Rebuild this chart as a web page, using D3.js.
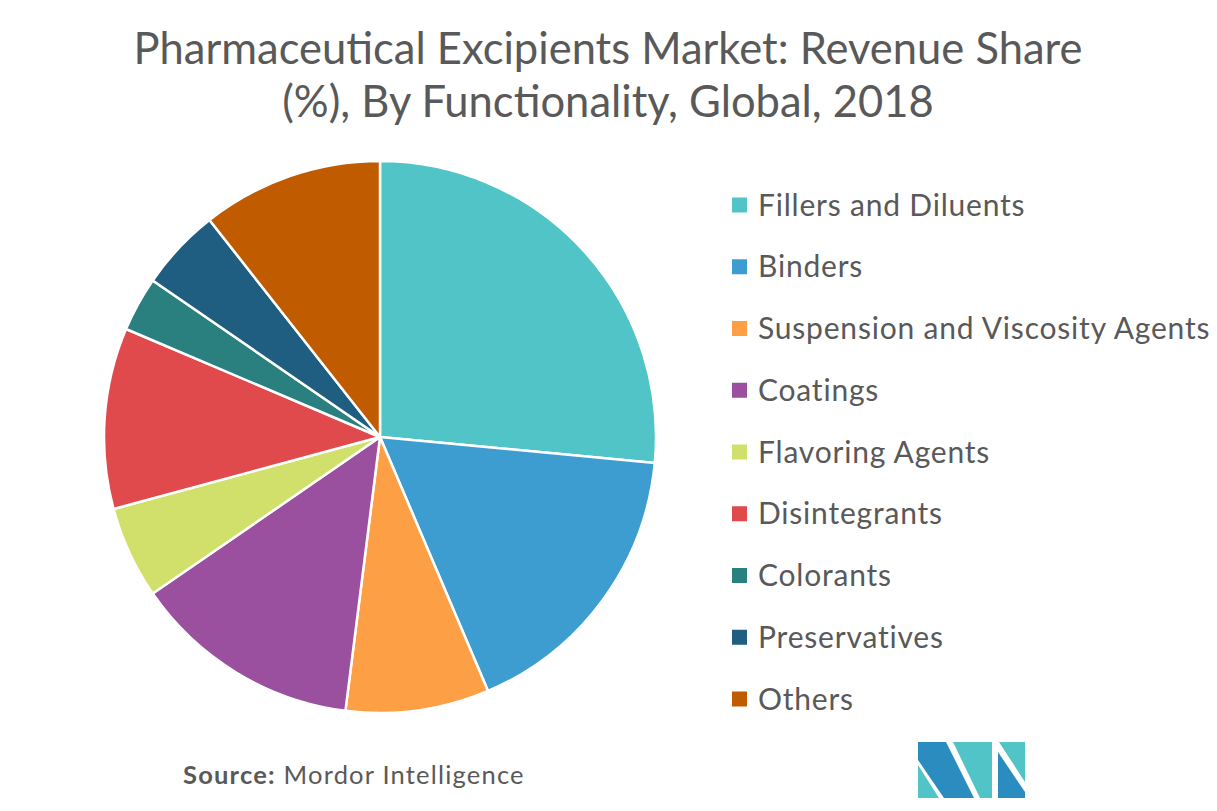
<!DOCTYPE html>
<html>
<head>
<meta charset="utf-8">
<script src="https://cdn.jsdelivr.net/npm/d3@7"></script>
<style>
  body { margin: 0; background: #fff; }
  svg { display: block; font-family: Lato, "Open Sans", sans-serif; }
</style>
</head>
<body>
<div id="chart"></div>
<script>
// data
var categories = ["Fillers and Diluents", "Binders", "Suspension and Viscosity Agents",
    "Coatings", "Flavoring Agents", "Disintegrants", "Colorants", "Preservatives", "Others"];
var shares = [26.5, 17.1, 8.4, 13.4, 5.4, 10.6, 3.2, 4.8, 10.6];
var colors = ["#50c4c7", "#3d9dd0", "#fd9f45", "#9a4f9f", "#d0e06a",
    "#e04a4c", "#2a7f7f", "#1f5d81", "#c05b00"];
var titleLines = ["Pharmaceutical Excipients Market: Revenue Share",
    "(%), By Functionality, Global, 2018"];

var width = 1217, height = 811;
var cx = 380, cy = 437, radius = 276;

var svg = d3.select("#chart").append("svg")
    .attr("width", width)
    .attr("height", height);

// title
svg.selectAll("text.title")
    .data(titleLines)
    .enter().append("text")
    .attr("class", "title")
    .attr("x", 608)
    .attr("y", function(d, i) { return 64 + i * 53; })
    .attr("text-anchor", "middle")
    .attr("font-size", 43.5)
    .attr("fill", "#595959")
    .text(function(d) { return d; });

// pie
var pie = d3.pie().sort(null).value(function(d) { return d; });
var arc = d3.arc().innerRadius(0).outerRadius(radius);

var g = svg.append("g")
    .attr("transform", "translate(" + cx + "," + cy + ")");

g.selectAll("path")
    .data(pie(shares))
    .enter().append("path")
    .attr("d", arc)
    .attr("fill", function(d, i) { return colors[i]; })
    .attr("stroke", "#fff")
    .attr("stroke-width", 2.5)
    .attr("stroke-linejoin", "round");

// legend
var legendY = d3.scalePoint().domain(categories).range([205, 699]);

var legend = svg.selectAll("g.legend")
    .data(categories)
    .enter().append("g")
    .attr("class", "legend")
    .attr("transform", function(d) { return "translate(732," + legendY(d) + ")"; });

legend.append("rect")
    .attr("x", 0)
    .attr("y", -7.5)
    .attr("width", 15)
    .attr("height", 15)
    .attr("fill", function(d, i) { return colors[i]; });

legend.append("text")
    .attr("x", 26)
    .attr("y", 0)
    .attr("dy", "0.35em")
    .attr("font-size", 30)
    .attr("letter-spacing", 0.8)
    .attr("fill", "#595959")
    .text(function(d) { return d; });

// source
var src = svg.append("text")
    .attr("x", 183)
    .attr("y", 784)
    .attr("font-size", 25.5)
    .attr("letter-spacing", 1.2)
    .attr("fill", "#595959");
src.append("tspan").attr("font-weight", "bold").text("Source:");
src.append("tspan").text(" Mordor Intelligence");

// logo
var logo = [
    {fill: "#50c4c7", pts: [[918, 765], [918, 798], [939, 798]]},
    {fill: "#2b8cbf", pts: [[918, 742], [946, 742], [974, 798], [944, 798], [918, 760]]},
    {fill: "#50c4c7", pts: [[953, 742], [992, 742], [992, 798], [980, 798]]},
    {fill: "#50c4c7", pts: [[999, 742], [1025, 742], [1025, 782]]},
    {fill: "#2b8cbf", pts: [[998, 752], [1025, 792], [1025, 798], [998, 798]]}
];
svg.selectAll("polygon.logo")
    .data(logo)
    .enter().append("polygon")
    .attr("class", "logo")
    .attr("points", function(d) { return d.pts.map(function(p) { return p.join(","); }).join(" "); })
    .attr("fill", function(d) { return d.fill; });
</script>
</body>
</html>
